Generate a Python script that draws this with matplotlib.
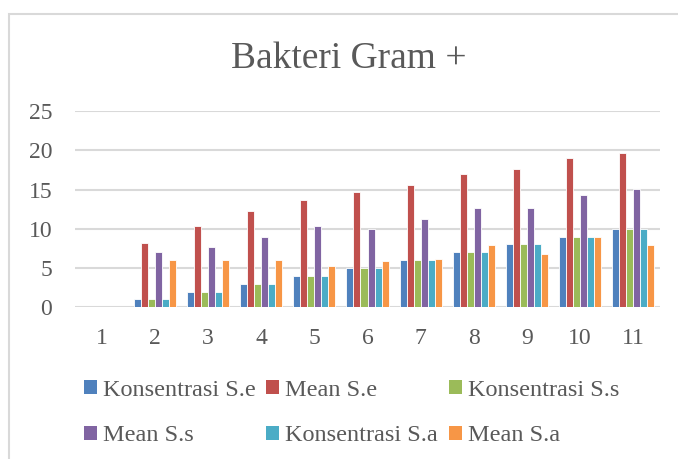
import matplotlib
matplotlib.use('Agg')
import matplotlib.pyplot as plt
from matplotlib.patches import Patch, Rectangle
import numpy as np

plt.rcParams['font.family'] = ['Liberation Serif', 'DejaVu Serif']

categories = ['1', '2', '3', '4', '5', '6', '7', '8', '9', '10', '11']
series_names = ['Konsentrasi S.e', 'Mean S.e', 'Konsentrasi S.s',
                'Mean S.s', 'Konsentrasi S.a', 'Mean S.a']
konsentrasi_se = [0, 1, 2, 3, 4, 5, 6, 7, 8, 9, 10]
mean_se = [0, 8.15, 10.35, 12.3, 13.67, 14.69, 15.6, 16.98, 17.66, 18.98, 19.66]
konsentrasi_ss = [0, 1, 2, 3, 4, 5, 6, 7, 8, 9, 10]
mean_ss = [0, 7.0, 7.64, 9.0, 10.36, 10.0, 11.29, 12.65, 12.65, 14.3, 15.03]
konsentrasi_sa = [0, 1, 2, 3, 4, 5, 6, 7, 8, 9, 10]
mean_sa = [0, 6.0, 6.0, 6.0, 5.26, 5.86, 6.15, 7.94, 6.83, 9.0, 7.9]
colors = ['#4F81BD', '#C0504D', '#9BBB59', '#8064A2', '#4BACC6', '#F79646']

all_series = [konsentrasi_se, mean_se, konsentrasi_ss, mean_ss, konsentrasi_sa, mean_sa]
txt = '#595959'

fig = plt.figure(figsize=(6.78, 4.59), dpi=100)
W, H = 678, 459
ax = fig.add_axes([75 / W, (H - 307.3) / H, 585 / W, (307.3 - 111) / H])

x = np.arange(len(categories))
group = 0.79
bw = group / len(all_series)
for i, vals in enumerate(all_series):
    ax.bar(x - group / 2 + bw * (i + 0.5), vals, width=bw, color=colors[i],
           edgecolor='white', linewidth=0.6, zorder=3, label=series_names[i])

ax.set_xlim(-0.5, len(categories) - 0.5)
ax.set_ylim(0, 25)
ax.set_yticks([0, 5, 10, 15, 20, 25])
ax.set_xticks(x)
ax.set_xticklabels(categories)
ax.grid(axis='y', color='#D9D9D9', linewidth=1.5, zorder=0)
for s in ax.spines.values():
    s.set_visible(False)
ax.tick_params(axis='both', length=0, colors=txt, labelsize=17)
ax.tick_params(axis='y', pad=16.5)
ax.tick_params(axis='x', pad=15)

fig.text(349 / W, 1 - 59 / H, 'Bakteri Gram +', ha='center', va='center',
         fontsize=27, color=txt)

# chart border
fig.patches.append(Rectangle((9 / W, -0.1), 1.2, (H - 14) / H + 0.1,
                             transform=fig.transFigure, fill=False,
                             edgecolor='#D9D9D9', linewidth=1.5))

# legend, three columns placed like the Excel layout
handles = [Patch(facecolor=c) for c in colors]
col_x = [84, 266, 449]
for j in range(3):
    idx = [j, j + 3]
    fig.legend([handles[k] for k in idx], [series_names[k] for k in idx],
               loc='upper left', bbox_to_anchor=(col_x[j] / W, 1 - 380 / H),
               frameon=False, fontsize=17.5, labelcolor=txt,
               handlelength=0.52, handleheight=0.52, handletextpad=0.25,
               labelspacing=1.0, borderpad=0, borderaxespad=0)

fig.savefig('out.png', dpi=100)
